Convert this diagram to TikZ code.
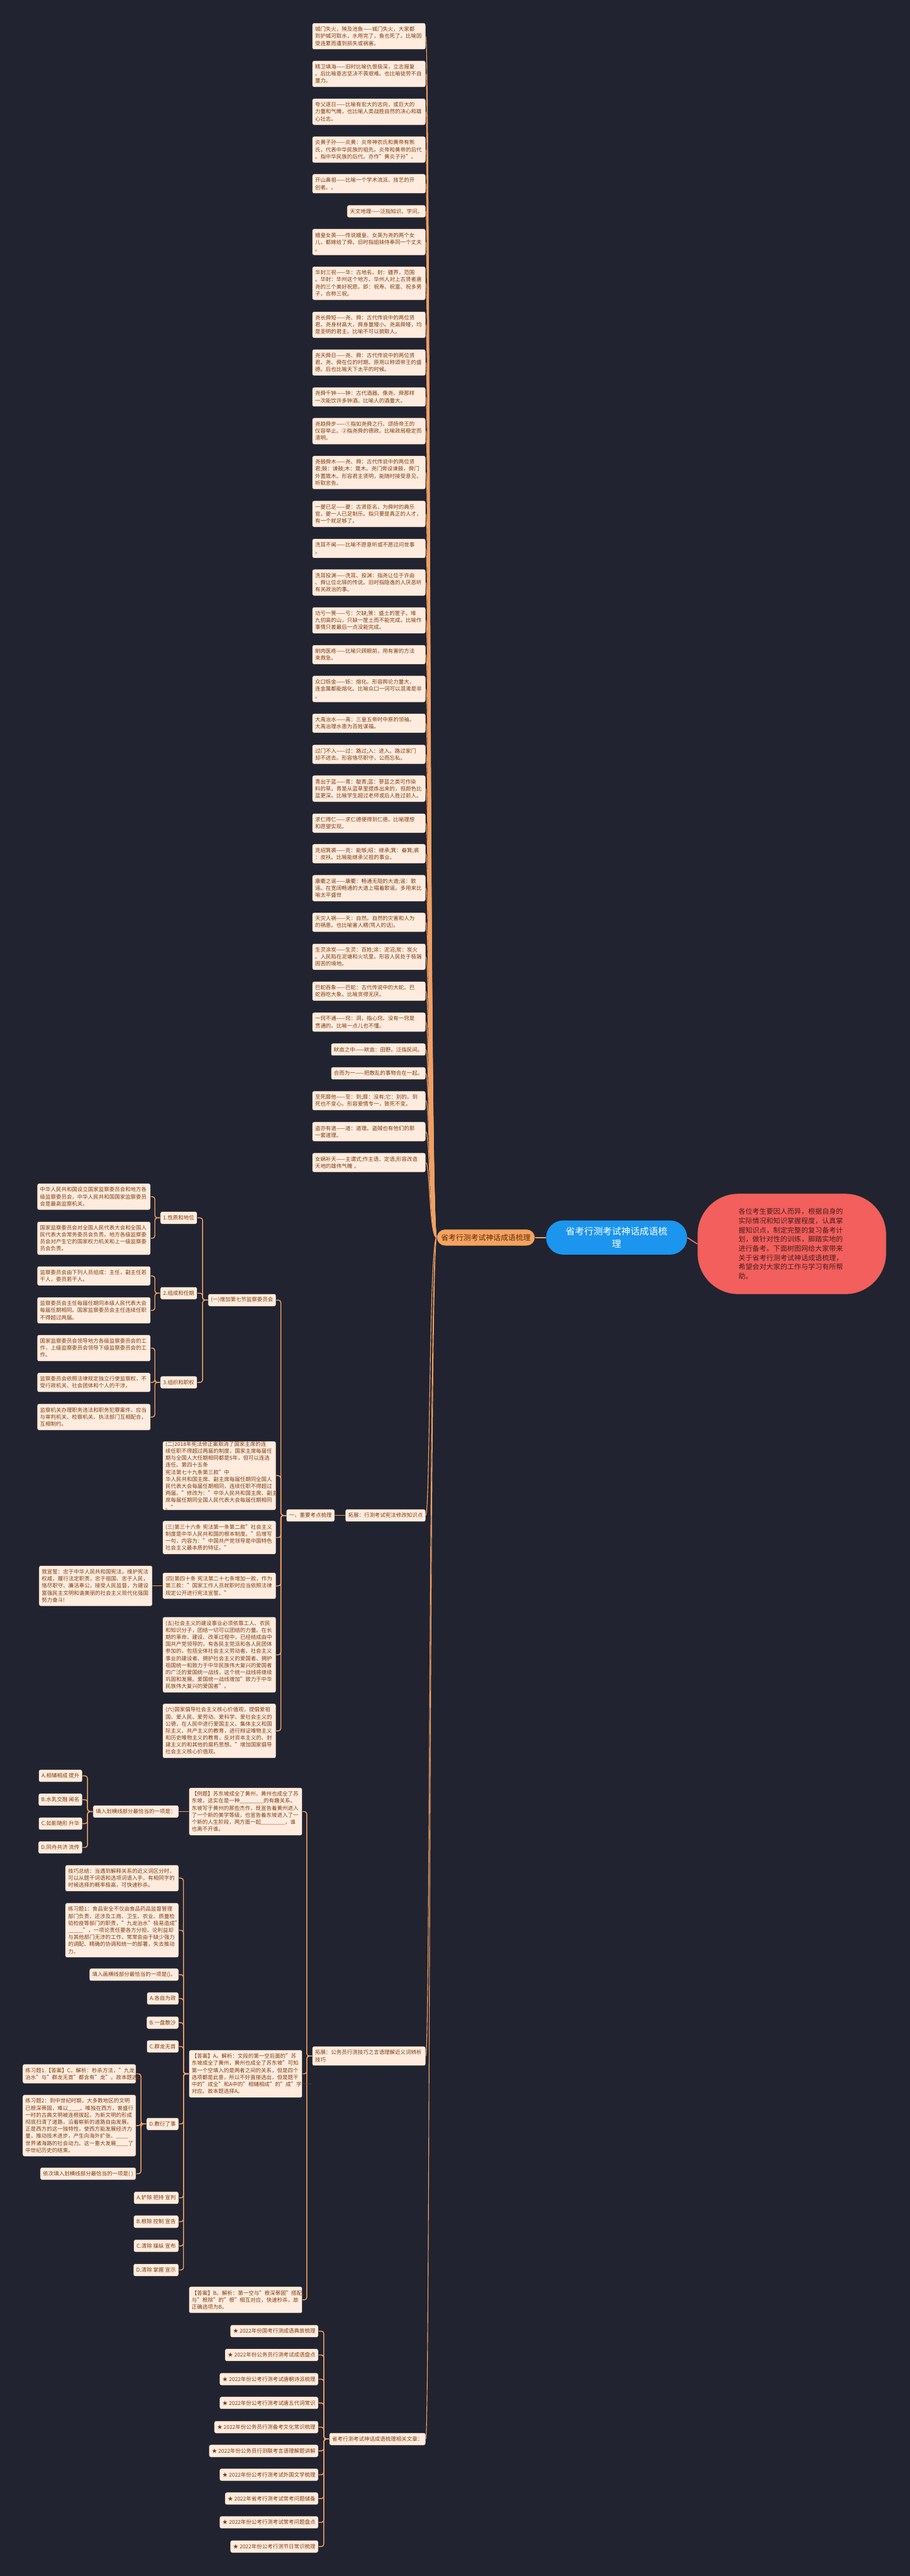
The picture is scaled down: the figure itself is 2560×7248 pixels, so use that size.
\documentclass[tikz,border=0pt]{standalone}
\usepackage{fontspec}
\setmainfont{Noto Sans CJK SC}
\usetikzlibrary{calc}
\definecolor{bgc}{HTML}{212330}
\definecolor{nfill}{HTML}{FFECDE}
\definecolor{ntext}{HTML}{7E3F14}
\definecolor{lnc}{HTML}{F0A064}
\definecolor{rootc}{HTML}{1C95EE}
\definecolor{orc}{HTML}{F5A35E}
\definecolor{ortext}{HTML}{5E2D0E}
\definecolor{redc}{HTML}{F25F5C}
\definecolor{redtext}{HTML}{4A1E1E}
\definecolor{redln}{HTML}{E8707A}
\pgfdeclarelayer{bg}
\pgfsetlayers{bg,main}
\tikzset{
  leaf/.style={draw=black!85, line width=0.8pt, fill=nfill, text=ntext, rounded corners=5pt,
    font=\fontsize{15}{19.8}\selectfont, inner xsep=8pt, inner ysep=1pt, anchor=east, minimum height=35pt},
  w/.style={text width=303pt, align=left},
  l/.style={minimum height={19.8*#1+15}},
  link/.style={draw=lnc, line width=2pt},
  elb/.style={draw=lnc, line width=2.5pt, rounded corners=7pt},
}
\begin{document}
\begin{tikzpicture}[x=1pt,y=-1pt]
\useasboundingbox (0,0) rectangle (2560,7248);
% ---------------- centre ----------------
\node[fill=rootc, text=white, rounded corners=48pt, minimum width=397pt, minimum height=96pt,
  align=center, font=\fontsize{26}{35}\selectfont] (root) at (1735,3482) {省考行测考试神话成语梳\\理};
\node[fill=orc, text=ortext, draw=black!80, line width=0.8pt, rounded corners=23pt, minimum width=276pt, minimum height=46pt,
  font=\fontsize{21}{24}\selectfont] (orn) at (1367,3482) {省考行测考试神话成语梳理};
\node[fill=redc, text=redtext, draw=black!80, line width=0.8pt, rounded corners=115pt, minimum width=531pt, minimum height=283pt,
  text width=300pt, align=left, font=\fontsize{19.6}{26}\selectfont] (intro) at (2228,3500)
  {各位考生要因人而异，根据自身的\\实际情况和知识掌握程度，认真掌\\握知识点，制定完整的复习备考计\\划，做针对性的训练，脚踏实地的\\进行备考。下面树图网给大家带来\\关于省考行测考试神话成语梳理，\\希望会对大家的工作与学习有所帮\\助。};
% ---------------- right column ----------------
\node[leaf,w,l=3] (r1) at (1198,102) {城门失火，殃及池鱼——城门失火，大家都\\到护城河取水，水用完了，鱼也死了。比喻因\\受连累而遭到损失或祸害。};
\node[leaf,w,l=3] (r2) at (1198,208) {精卫填海——旧时比喻仇恨极深，立志报复\\。后比喻意志坚决不畏艰难。也比喻徒劳不自\\量力。};
\node[leaf,w,l=3] (r3) at (1198,314.5) {夸父逐日——比喻有宏大的志向，或巨大的\\力量和气魄，也比喻人类战胜自然的决心和雄\\心壮志。};
\node[leaf,w,l=3] (r4) at (1198,421) {炎黄子孙——炎黄：炎帝神农氏和黄帝有熊\\氏，代表中华民族的祖先。炎帝和黄帝的后代\\。指中华民族的后代。亦作"黄炎子孙"。};
\node[leaf,w,l=2] (r5) at (1198,517) {开山鼻祖——比喻一个学术流派、技艺的开\\创者。。};
\node[leaf] (r6) at (1198,594.5) {天文地理——泛指知识、学问。};
\node[leaf,w,l=3] (r7) at (1198,681) {娥皇女英——传说娥皇、女英为尧的两个女\\儿，都嫁给了舜。旧时指姐妹侍奉同一个丈夫\\。};
\node[leaf,w,l=4] (r8) at (1198,797) {华封三祝——华：古地名。封：疆界，范围\\。华封：华州这个地方。华州人对上古贤者唐\\尧的三个美好祝愿。即：祝寿、祝富、祝多男\\子，合称三祝。};
\node[leaf,w,l=3] (r9) at (1198,914) {尧长舜短——尧、舜：古代传说中的两位贤\\君。尧身材高大，舜身量矮小。尧高舜矮，均\\是圣明的君主。比喻不可以貌取人。};
\node[leaf,w,l=3] (r10) at (1198,1020) {尧天舜日——尧、舜：古代传说中的两位贤\\君。尧、舜在位的时期。原用以称颂帝王的盛\\德。后也比喻天下太平的时候。};
\node[leaf,w,l=2] (r11) at (1198,1117) {尧舜千钟——钟：古代酒器。像尧、舜那样\\一次能饮许多钟酒。比喻人的酒量大。};
\node[leaf,w,l=3] (r12) at (1198,1213) {尧趋舜步——①指如尧舜之行。颂扬帝王的\\仪容举止。②指尧舜的德政。比喻政局稳定而\\清明。};
\node[leaf,w,l=4] (r13) at (1198,1329.5) {尧鼓舜木——尧、舜：古代传说中的两位贤\\君;鼓：谏鼓;木：箴木。尧门旁设谏鼓，舜门\\外置箴木。形容君主贤明，能随时接受意见，\\听取忠告。};
\node[leaf,w,l=3] (r14) at (1198,1446) {一夔已足——夔：古贤臣名，为舜时的典乐\\官。夔一人已足制乐。指只要是真正的人才，\\有一个就足够了。};
\node[leaf,w,l=2] (r15) at (1198,1543) {洗耳不闻——比喻不愿意听或不愿过问世事\\。};
\node[leaf,w,l=3] (r16) at (1198,1639) {洗耳投渊——洗耳、投渊：指尧让位于许由\\、舜让位北铎的传说。旧时指隐逸的人厌恶听\\有关政治的事。};
\node[leaf,w,l=3] (r17) at (1198,1745.5) {功亏一篑——亏：欠缺;篑：盛土的筐子。堆\\九仞高的山，只缺一筐土而不能完成。比喻作\\事情只差最后一点没能完成。};
\node[leaf,w,l=2] (r18) at (1198,1842) {剜肉医疮——比喻只顾眼前，用有害的方法\\来救急。};
\node[leaf,w,l=3] (r19) at (1198,1938.5) {众口铄金——铄：熔化。形容舆论力量大，\\连金属都能熔化。比喻众口一词可以混淆是非\\。};
\node[leaf,w,l=2] (r20) at (1198,2035) {大禹治水——禹：三皇五帝时中原的领袖。\\大禹治理水患为百姓谋福。};
\node[leaf,w,l=2] (r21) at (1198,2122.5) {过门不入——过：路过;入：进入。路过家门\\却不进去。形容恪尽职守，公而忘私。};
\node[leaf,w,l=3] (r22) at (1198,2219) {青出于蓝——青：靛青;蓝：蓼蓝之类可作染\\料的草。青是从蓝草里提炼出来的，但颜色比\\蓝更深。比喻学生超过老师或后人胜过前人。};
\node[leaf,w,l=2] (r23) at (1198,2316) {求仁得仁——求仁德便得到仁德。比喻理想\\和愿望实现。};
\node[leaf,w,l=2] (r24) at (1198,2402) {克绍箕裘——克：能够;绍：继承;箕：畚箕;裘\\：皮袄。比喻能继承父祖的事业。};
\node[leaf,w,l=3] (r25) at (1198,2499) {康衢之谣——康衢：畅通无阻的大道;谣：歌\\谣。在宽阔畅通的大道上唱着歌谣。多用来比\\喻太平盛世};
\node[leaf,w,l=2] (r26) at (1198,2595) {天灾人祸——天：自然。自然的灾害和人为\\的祸患。也比喻害人精(骂人的话)。};
\node[leaf,w,l=3] (r27) at (1198,2692) {生灵涂炭——生灵：百姓;涂：泥沼;炭：炭火\\。人民陷在泥塘和火坑里。形容人民处于极端\\困苦的境地。};
\node[leaf,w,l=2] (r28) at (1198,2789) {巴蛇吞象——巴蛇：古代传说中的大蛇。巴\\蛇吞吃大象。比喻贪得无厌。};
\node[leaf,w,l=2] (r29) at (1198,2876) {一窍不通——窍：洞，指心窍。没有一窍是\\贯通的。比喻一点儿也不懂。};
\node[leaf] (r30) at (1198,2953) {畎亩之中——畎亩：田野。泛指民间。};
\node[leaf] (r31) at (1198,3020) {合而为一——把散乱的事物合在一起。};
\node[leaf,w,l=2] (r32) at (1198,3097) {至死靡他——至：到;靡：没有;它：别的。到\\死也不变心。形容爱情专一，致死不变。};
\node[leaf,w,l=2] (r33) at (1198,3184) {盗亦有道——道：道理。盗贼也有他们的那\\一套道理。};
\node[leaf,w,l=2] (r34) at (1198,3271) {女娲补天——主谓式;作主语、定语;形容改造\\天地的雄伟气魄 。};
% ---------------- branch: 宪法 ----------------
\node[leaf] (tz1) at (1198,4264) {拓展：行测考试宪法修改知识点};
\node[leaf] (ke) at (942,4264) {一、重要考点梳理};
\node[leaf] (s1) at (777,3658) {(一)增加第七节监察委员会};
\node[leaf] (p1) at (555,3426.5) {1.性质和地位};
\node[leaf] (p2) at (555,3638.5) {2.组成和任期};
\node[leaf] (p3) at (555,3889.5) {3.组织和职权};
\node[leaf,w,l=3] (qa) at (424,3367) {中华人民共和国设立国家监察委员会和地方各\\级监察委员会，中华人民共和国国家监察委员\\会是最高监察机关。};
\node[leaf,w,l=4] (qb) at (424,3484) {国家监察委员会对全国人民代表大会和全国人\\民代表大会常务委员会负责。地方各级监察委\\员会对产生它的国家权力机关和上一级监察委\\员会负责。};
\node[leaf,w,l=2] (qc) at (424,3590) {监察委员会由下列人员组成：主任，副主任若\\干人，委员若干人。};
\node[leaf,w,l=3] (qd) at (424,3687) {监察委员会主任每届任期同本级人民代表大会\\每届任期相同。国家监察委员会主任连续任职\\不得超过两届。};
\node[leaf,w,l=3] (qe) at (424,3793) {国家监察委员会领导地方各级监察委员会的工\\作，上级监察委员会领导下级监察委员会的工\\作。};
\node[leaf,w,l=2] (qf) at (424,3889.5) {监察委员会依照法律规定独立行使监察权，不\\受行政机关、社会团体和个人的干涉。};
\node[leaf,w,l=3] (qg) at (424,3987) {监察机关办理职务违法和职务犯罪案件，应当\\与审判机关、检察机关、执法部门互相配合，\\互相制约。};
\node[leaf,w,l=9] (s2) at (777,4152) {(二)2018年宪法修正案取消了国家主席的连\\续任职不得超过两届的制度，国家主席每届任\\期与全国人大任期相同都是5年，但可以连选\\连任。第四十五条 宪法第七十九条第三款"中\\华人民共和国主席、副主席每届任期同全国人\\民代表大会每届任期相同，连续任职不得超过\\两届。"修改为："中华人民共和国主席、副主\\席每届任期同全国人民代表大会每届任期相同\\。"};
\node[leaf,w,l=4] (s3) at (777,4326) {(三)第三十六条 宪法第一条第二款"社会主义\\制度是中华人民共和国的根本制度。"后增写\\一句，内容为："中国共产党领导是中国特色\\社会主义最本质的特征。"};
\node[leaf,w,l=3] (s4) at (777,4462) {(四)第四十条 宪法第二十七条增加一款，作为\\第三款："国家工作人员就职时应当依照法律\\规定公开进行宪法宣誓。"};
\node[leaf,w,l=5] (oath) at (429,4462) {我宣誓：忠于中华人民共和国宪法，维护宪法\\权威，履行法定职责，忠于祖国、忠于人民，\\恪尽职守、廉洁奉公，接受人民监督，为建设\\富强民主文明和谐美丽的社会主义现代化强国\\努力奋斗!};
\node[leaf,w,l=10] (s5) at (777,4656) {(五)社会主义的建设事业必须依靠工人、农民\\和知识分子，团结一切可以团结的力量。在长\\期的革命、建设、改革过程中，已经结成由中\\国共产党领导的，有各民主党派和各人民团体\\参加的，包括全体社会主义劳动者、社会主义\\事业的建设者、拥护社会主义的爱国者、拥护\\祖国统一和致力于中华民族伟大复兴的爱国者\\的广泛的爱国统一战线，这个统一战线将继续\\巩固和发展。爱国统一战线增加"致力于中华\\民族伟大复兴的爱国者"。};
\node[leaf,w,l=7] (s6) at (777,4870) {(六)国家倡导社会主义核心价值观，提倡爱祖\\国、爱人民、爱劳动、爱科学、爱社会主义的\\公德，在人民中进行爱国主义、集体主义和国\\际主义、共产主义的教育，进行辩证唯物主义\\和历史唯物主义的教育，反对资本主义的、封\\建主义的和其他的腐朽思想。"增加国家倡导\\社会主义核心价值观。};
% ---------------- branch: 技巧 ----------------
\node[leaf,w,l=2] (tz2) at (1198,5785) {拓展：公务员行测技巧之言语理解近义词辨析\\技巧};
\node[leaf,w,l=6] (ex) at (851,5097) {【例题】苏东坡成全了黄州，黄州也成全了苏\\东坡，这实在是一种\_\_\_\_\_\_\_\_的有趣关系。\\东坡写于黄州的那些杰作，既宣告着黄州进入\\了一个新的美学等级，也宣告着东坡进入了一\\个新的人生阶段，两方面一起\_\_\_\_\_\_\_\_，谁\\也离不开谁。};
\node[leaf] (fill1) at (503,5097) {填入划横线部分最恰当的一项是：};
\node[leaf] (A1) at (232,4996.5) {A.相辅相成 提升};
\node[leaf] (B1) at (232,5063.6) {B.水乳交融 闻名};
\node[leaf] (C1) at (232,5131) {C.如影随形 升华};
\node[leaf] (D1) at (232,5198) {D.同舟共济 流传};
\node[leaf,w,l=6] (ans) at (851,5835) {【答案】A。解析：文段的第一空后面的"苏\\东坡成全了黄州，黄州也成全了苏东坡"可知\\第一个空填入的是两者之间的关系，但是四个\\选项都是此意，所以不好直接选出，但是题干\\中的"成全"和A中的"相辅相成"的"成"字一一\\对应。故本题选择A。};
\node[leaf,w,l=3] (tip) at (503,5284.5) {技巧总结：当遇到解释关系的近义词区分时，\\可以从题干词语和选项词语入手，有相同字的\\时候选择的概率极高，可快速秒杀。};
\node[leaf,w,l=7] (pr1) at (503,5431) {练习题1：食品安全不仅由食品药品监督管理\\部门负责，还涉及工商、卫生、农业、质量检\\验检疫等部门的职责，"九龙治水"极易造成"\_\\\_\_\_\_\_"，一项论责任要各方分担、论利益却\\与其他部门无涉的工作，常常会由于缺少强力\\的调配、精确的协调和统一的部署，失去推动\\力。};
\node[leaf] (fill2) at (503,5556) {填入画横线部分最恰当的一项是()。};
\node[leaf] (A2) at (503,5623) {A.各自为政};
\node[leaf] (B2) at (503,5691) {B.一盘散沙};
\node[leaf] (C2) at (503,5758) {C.群龙无首};
\node[leaf] (D2) at (503,5976) {D.敷衍了事};
\node[leaf,w,l=2] (pa1) at (383,5835) {练习题1.【答案】C。解析：秒杀方法，"九龙\\治水"与"群龙无首"都含有"龙"。故本题选C。};
\node[leaf,w,l=8] (pr2) at (383,5980.6) {练习题2：到中世纪时期，大多数地区的文明\\已根深蒂固，难以\_\_\_\_。唯独在西方，曾盛行\\一时的古典文明被连根拔起，为新文明的形成\\彻底扫清了道路，沿着崭新的道路自由发展。\\正是西方的这一独特性，使西方能发展经济力\\量，推动技术进步，产生向海外扩张、\_\_\_\_\\世界诸海路的社会动力。这一重大发展\_\_\_\_了\\中世纪历史的结束。};
\node[leaf] (fill3) at (383,6116) {依次填入划横线部分最恰当的一项是( )};
\node[leaf] (A3) at (503,6184) {A.铲除 把持 宣判};
\node[leaf] (B3) at (503,6251) {B.根除 控制 宣告};
\node[leaf] (C3) at (503,6319) {C.清除 操纵 宣布};
\node[leaf] (D3) at (503,6387) {D.清除 掌握 宣示};
\node[leaf,w,l=3] (ansB) at (851,6471) {【答案】B。解析：第一空与"根深蒂固"搭配，\\与"根除"的"根"相互对应，快速秒杀，故\\正确选项为B。};
% ---------------- branch: 相关文章 ----------------
\node[leaf] (rel) at (1198,6862.5) {省考行测考试神话成语梳理相关文章：};
\node[leaf] (st1) at (896,6559) {★ 2022年份国考行测成语典故梳理};
\node[leaf] (st2) at (896,6626) {★ 2022年份公务员行测考试成语盘点};
\node[leaf] (st3) at (896,6694) {★ 2022年份公考行测考试唐朝诗派梳理};
\node[leaf] (st4) at (896,6761) {★ 2022年份公考行测考试唐五代词常识};
\node[leaf] (st5) at (896,6829) {★ 2022年份公务员行测备考文化常识梳理};
\node[leaf] (st6) at (896,6896) {★ 2022年份公务员行测联考言语理解题讲解};
\node[leaf] (st7) at (896,6963) {★ 2022年份公考行测考试外国文学梳理};
\node[leaf] (st8) at (896,7030) {★ 2022年省考行测考试常考问题储备};
\node[leaf] (st9) at (896,7097) {★ 2022年份公考行测考试常考问题盘点};
\node[leaf] (st10) at (896,7165) {★ 2022年份公考行测节日常识梳理};
% ---------------- connectors ----------------
\begin{pgfonlayer}{bg}
\fill[bgc] (0,0) rectangle (2560,7248);
\draw[draw=lnc, line width=3pt] (root.west) -- (orn.east);
\draw[draw=redln, line width=3pt] (root.east) -- (intro.west);
\foreach \n in {r1,r2,r3,r4,r5,r6,r7,r8,r9,r10,r11,r12,r13,r14,r15,r16,r17,r18,r19,r20,r21,r22,r23,r24,r25,r26,r27,r28,r29,r30,r31,r32,r33,r34,tz1,tz2,rel}
  \draw[link] (orn.west) .. controls +(-21,0) and +(12,0) .. (\n.east);
\draw[elb] (tz1.west) -- (ke.east);
\foreach \c in {s1,s2,s3,s4,s5,s6} \draw[elb] (ke.west) -- ++(-15,0) |- (\c.east);
\foreach \c in {p1,p2,p3} \draw[elb] (s1.west) -- ++(-15,0) |- (\c.east);
\foreach \c in {qa,qb} \draw[elb] (p1.west) -- ++(-15,0) |- (\c.east);
\foreach \c in {qc,qd} \draw[elb] (p2.west) -- ++(-15,0) |- (\c.east);
\foreach \c in {qe,qf,qg} \draw[elb] (p3.west) -- ++(-15,0) |- (\c.east);
\draw[elb] (s4.west) -- (oath.east);
\foreach \c in {ex,ans,ansB} \draw[elb] (tz2.west) -- ++(-15,0) |- (\c.east);
\draw[elb] (ex.west) -- (fill1.east);
\foreach \c in {A1,B1,C1,D1} \draw[elb] (fill1.west) -- ++(-15,0) |- (\c.east);
\foreach \c in {tip,pr1,fill2,A2,B2,C2,D2,A3,B3,C3,D3} \draw[elb] (ans.west) -- ++(-15,0) |- (\c.east);
\foreach \c in {pa1,pr2,fill3} \draw[elb] (D2.west) -- ++(-15,0) |- (\c.east);
\foreach \c in {st1,st2,st3,st4,st5,st6,st7,st8,st9,st10} \draw[elb] (rel.west) -- ++(-15,0) |- (\c.east);
\end{pgfonlayer}
\end{tikzpicture}
\end{document}
